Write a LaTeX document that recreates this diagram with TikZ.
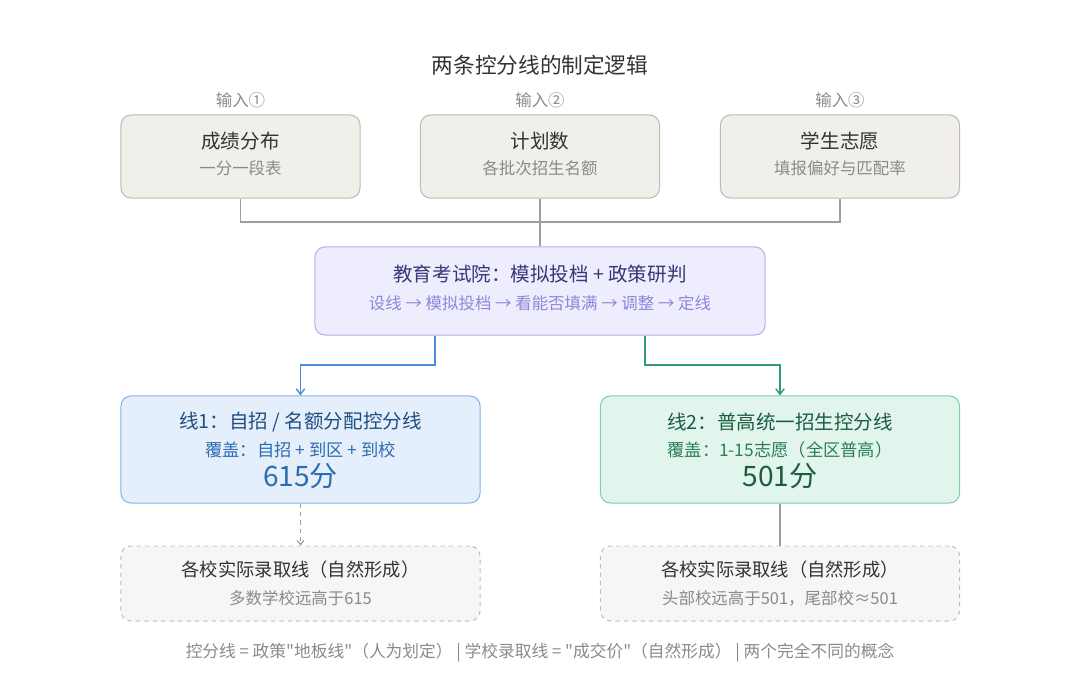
\documentclass[tikz,border=0pt]{standalone}
\usepackage{fontspec}
\setmainfont{Noto Sans CJK SC}
\newfontfamily\llano{Noto Sans CJK SC}[Ligatures=TeXOff]
\usepackage{tikz}
\usetikzlibrary{positioning}
\usetikzlibrary{arrows.meta}

\definecolor{grisfondo}{HTML}{F0EFEA}
\definecolor{grisborde}{HTML}{BDBAB2}
\definecolor{grisoscuro}{HTML}{333333}
\definecolor{grismedio}{HTML}{8A8A8A}
\definecolor{grislinea}{HTML}{9E9E9E}
\definecolor{lilafondo}{HTML}{EEEDFD}
\definecolor{lilaborde}{HTML}{B5AEEA}
\definecolor{lilaoscuro}{HTML}{3B3777}
\definecolor{lilaclaro}{HTML}{8F86DA}
\definecolor{azulfondo}{HTML}{E5EFFB}
\definecolor{azulborde}{HTML}{80B2E6}
\definecolor{azuloscuro}{HTML}{1E4F82}
\definecolor{azulmedio}{HTML}{2C6CB0}
\definecolor{azulflecha}{HTML}{4A8DDA}
\definecolor{verdefondo}{HTML}{E2F5ED}
\definecolor{verdeborde}{HTML}{7ECBA9}
\definecolor{verdeoscuro}{HTML}{1B5C43}
\definecolor{verdemedio}{HTML}{2A7D5B}
\definecolor{verdeflecha}{HTML}{2F9E70}
\definecolor{finfondo}{HTML}{F6F6F4}
\definecolor{finborde}{HTML}{BBBBBB}

\begin{document}
\begin{tikzpicture}[x=0.025cm, y=-0.025cm,
    caja/.style={draw, rounded corners=0.25cm, line width=0.7pt, inner sep=0pt},
    entrada/.style={caja, fill=grisfondo, draw=grisborde, minimum width=5.975cm, minimum height=2.075cm},
    linea/.style={caja, minimum width=8.975cm, minimum height=2.675cm},
    final/.style={caja, fill=finfondo, draw=finborde, dashed, minimum width=8.975cm, minimum height=1.875cm},
    titulo/.style={font=\fontsize{13.9pt}{16pt}\selectfont, inner sep=0pt},
    sub/.style={font=\fontsize{11.7pt}{14pt}\selectfont, inner sep=0pt},
    cifra/.style={font=\fontsize{20pt}{24pt}\selectfont, inner sep=0pt},
    conector/.style={grislinea, line width=0.8pt},
    flecha/.style={line width=1pt, -{Straight Barb[length=4pt,width=6pt]}}]
          \useasboundingbox (0,0) rectangle (1080,689);

          % Titulo
          \node[titulo, font=\fontsize{15.4pt}{18pt}\selectfont, text=grisoscuro] (tit) at (540,65) {两条控分线的制定逻辑};

          % Entradas
          \node[sub, text=grismedio] (in1) at (240.5,100) {输入①};
          \node[sub, text=grismedio] (in2) at (540,100) {输入②};
          \node[sub, text=grismedio] (in3) at (840,100) {输入③};
          \node[entrada] (e1) at (240.5,156.5) {};
          \node[entrada] (e2) at (540,156.5) {};
          \node[entrada] (e3) at (840,156.5) {};
          \node[titulo, text=grisoscuro] (e1t) at (240.5,141) {成绩分布};
          \node[sub, text=grismedio] (e1s) at (240.5,168) {一分一段表};
          \node[titulo, text=grisoscuro] (e2t) at (540,141) {计划数};
          \node[sub, text=grismedio] (e2s) at (540,168) {各批次招生名额};
          \node[titulo, text=grisoscuro] (e3t) at (840,141) {学生志愿};
          \node[sub, text=grismedio] (e3s) at (840,168) {填报偏好与匹配率};

          % Examen
          \node[caja, fill=lilafondo, draw=lilaborde, minimum width=11.25cm, minimum height=2.2cm] (ex) at (540,291) {};
          \node[titulo, text=lilaoscuro] (ext) at (540,274) {教育考试院：模拟投档 + 政策研判};
          \node[sub, text=lilaclaro] (exs) at (540,303) {设线 → 模拟投档 → 看能否填满 → 调整 → 定线};

          % Lineas
          \node[linea, fill=azulfondo, draw=azulborde] (l1) at (300.5,449.5) {};
          \node[titulo, text=azuloscuro] (l1t) at (300.5,422) {线1：自招 / 名额分配控分线};
          \node[sub, font=\fontsize{12.3pt}{14pt}\selectfont, text=azulmedio] (l1s) at (300.5,450) {覆盖：自招 + 到区 + 到校};
          \node[cifra, text=azulmedio] (l1n) at (300.5,476) {615分};
          \node[linea, fill=verdefondo, draw=verdeborde] (l2) at (780,449.5) {};
          \node[titulo, text=verdeoscuro] (l2t) at (780,422) {线2：普高统一招生控分线};
          \node[sub, font=\fontsize{12.3pt}{14pt}\selectfont, text=verdemedio] (l2s) at (780,450) {覆盖：1-15志愿（全区普高）};
          \node[cifra, text=verdeoscuro] (l2n) at (780,476) {501分};

          % Resultados
          \node[final] (f1) at (300.5,583.5) {};
          \node[titulo, font=\fontsize{13pt}{15pt}\selectfont, text=grisoscuro] (f1t) at (300.5,570) {各校实际录取线（自然形成）};
          \node[sub, text=grismedio] (f1s) at (300.5,598) {多数学校远高于615};
          \node[final] (f2) at (780,583.5) {};
          \node[titulo, font=\fontsize{13pt}{15pt}\selectfont, text=grisoscuro] (f2t) at (780,570) {各校实际录取线（自然形成）};
          \node[sub, text=grismedio] (f2s) at (780,598) {头部校远高于501，尾部校≈501};

          % Nota
          \node[sub, font=\llano\fontsize{11.9pt}{13pt}\selectfont, text=grismedio] (nota) at (540,653) {控分线 = 政策"地板线"（人为划定） | 学校录取线 = "成交价"（自然形成） | 两个完全不同的概念};

          % Aristas
          \coordinate (bar) at (540,222);
          \draw[conector] (e1.south) |- (bar);
          \draw[conector] (e3.south) |- (bar);
          \draw[conector] (e2.south) -- (ex.north);
          \draw[flecha, azulflecha] (ex.south -| 435,0) |- (300.5,365) -- (l1.north);
          \draw[flecha, verdeflecha] (ex.south -| 645,0) |- (780,365) -- (l2.north);
          \draw[conector, dashed, -{Straight Barb[length=3pt,width=5pt]}] (l1.south) -- (f1.north);
          \draw[conector] (l2.south) -- (f2.north);

        \end{tikzpicture}
\end{document}
